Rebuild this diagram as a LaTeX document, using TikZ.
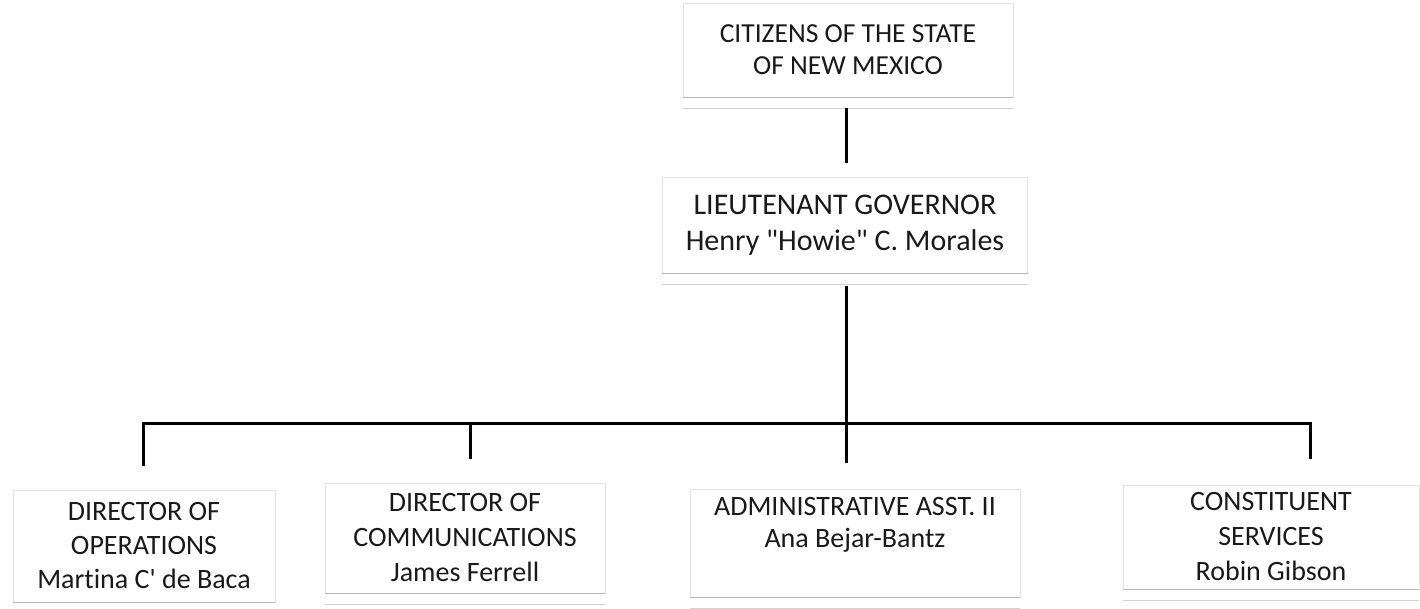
\documentclass[tikz,border=0pt]{standalone}
\usepackage{fontspec}
\setmainfont{Carlito}[Ligatures=NoCommon]
\begin{document}
\begin{tikzpicture}[x=1pt,y=-1pt,
  orgbox/.style={draw=gray!22, line width=0.8pt, align=center, inner sep=0pt, text=black!90},
  conn/.style={line width=3pt, black},
  dblline/.style={draw=gray!55, line width=1.2pt}
]
\useasboundingbox (0,0) rectangle (1420,609);
% boxes
\node[orgbox, minimum width=330, minimum height=94, font=\fontsize{27.5}{32}\selectfont] (cit) at (848,50)
  {CITIZENS OF THE STATE\\OF NEW MEXICO};
\node[orgbox, minimum width=365, minimum height=96, font=\fontsize{30}{36}\selectfont] (lg) at (845,225)
  {LIEUTENANT GOVERNOR\\Henry \textquotedbl Howie\textquotedbl\ C. Morales};
\node[orgbox, minimum width=262, minimum height=112, font=\fontsize{28}{34}\selectfont] (ops) at (144,546)
  {DIRECTOR OF\\OPERATIONS\\Martina C\textquotesingle\ de Baca};
\node[orgbox, minimum width=280, minimum height=110, font=\fontsize{28}{35}\selectfont] (com) at (465,538)
  {DIRECTOR OF\\COMMUNICATIONS\\James Ferrell};
\node[orgbox, minimum width=330, minimum height=108, font=\fontsize{28}{32}\selectfont] (adm) at (855,543)
  {ADMINISTRATIVE ASST. II\\Ana Bejar-Bantz\\\strut};
\node[orgbox, minimum width=296, minimum height=104, font=\fontsize{28}{35}\selectfont] (con) at (1271,537)
  {CONSTITUENT\\SERVICES\\Robin Gibson};
% double bottom lines
\foreach \n in {cit,lg,ops,com,adm,con}{
  \draw[dblline] (\n.south west) -- (\n.south east);
  \draw[dblline, draw=gray!35] ([yshift=-11pt]\n.south west) -- ([yshift=-11pt]\n.south east);
}
% connectors
\coordinate (b1) at (143,423);
\coordinate (b2) at (470,423);
\coordinate (b3) at (846,423);
\coordinate (b4) at (1310,423);
\draw[conn] ([yshift=-11pt]cit.south -| b3) -- ([yshift=14pt]lg.north -| b3);
\draw[conn] ([yshift=-13pt]lg.south -| b3) -- (b3);
\draw[conn, line cap=rect] (b1) -- (b4);
\draw[conn] (b1) -- ([yshift=24pt]ops.north -| b1);
\draw[conn] (b2) -- ([yshift=24pt]com.north -| b2);
\draw[conn] (b3) -- ([yshift=26pt]adm.north -| b3);
\draw[conn] (b4) -- ([yshift=26pt]con.north -| b4);
\end{tikzpicture}
\end{document}
